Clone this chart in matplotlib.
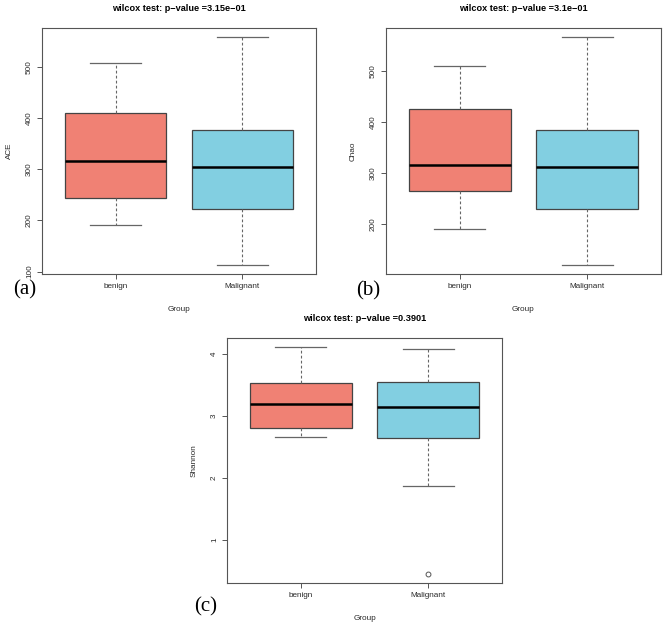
import numpy as np
import matplotlib
matplotlib.use("Agg")
import matplotlib.pyplot as plt

plt.rcParams['font.family'] = ['Liberation Sans', 'DejaVu Sans']

# Grupos
groups = ['benign', 'Malignant']

# Estadisticos (bigote inf, Q1, mediana, Q3, bigote sup)
ace_low = [190, 113]
ace_q1 = [243, 223]
ace_med = [316, 304]
ace_q3 = [410, 376]
ace_high = [508, 558]

chao_low = [191, 120]
chao_q1 = [265, 229]
chao_med = [316, 312]
chao_q3 = [425, 384]
chao_high = [510, 566]

shan_low = [2.66, 1.87]
shan_q1 = [2.80, 2.65]
shan_med = [3.19, 3.135]
shan_q3 = [3.53, 3.55]
shan_high = [4.106, 4.07]
shan_fliers = [[], [0.455]]

titles = ['wilcox test: p\u2212value =3.15e\u221201',
          'wilcox test: p\u2212value =3.1e\u221201',
          'wilcox test: p\u2212value =0.3901']
ylabels = ['ACE', 'Chao', 'Shannon']
yticks_list = [[100, 200, 300, 400, 500], [200, 300, 400, 500], [1, 2, 3, 4]]
panel_tags = ['(a)', '(b)', '(c)']

colors = ['#F08174', '#82CFE1']
W, H = 667, 625


def stats(low, q1, med, q3, high, fliers=None):
    out = []
    for i in range(len(groups)):
        out.append(dict(whislo=low[i], q1=q1[i], med=med[i], q3=q3[i],
                        whishi=high[i],
                        fliers=(fliers[i] if fliers else []),
                        label=groups[i]))
    return out


def px_axes(fig, left, top, right, bottom):
    return fig.add_axes([left / W, 1 - bottom / H, (right - left) / W, (bottom - top) / H])


all_stats = [stats(ace_low, ace_q1, ace_med, ace_q3, ace_high),
             stats(chao_low, chao_q1, chao_med, chao_q3, chao_high),
             stats(shan_low, shan_q1, shan_med, shan_q3, shan_high, shan_fliers)]

boxes_px = [(42, 28, 316, 274), (386, 28, 661, 274), (227, 338, 502, 583)]
tag_px = [(25, 290), (368, 291), (206, 607)]

fig = plt.figure(figsize=(W / 100, H / 100), dpi=100)
frame = '#555555'
txt = '#2a2a2a'

for k in range(3):
    l, t, r, b = boxes_px[k]
    ax = px_axes(fig, l, t, r, b)
    bp = ax.bxp(all_stats[k], positions=[1, 2], widths=0.8, patch_artist=True,
                showfliers=True,
                boxprops=dict(edgecolor='#444444', linewidth=0.9),
                medianprops=dict(color='black', linewidth=1.8),
                whiskerprops=dict(color='#666666', linewidth=0.8, linestyle=(0, (2.5, 2))),
                capprops=dict(color='#666666', linewidth=0.9),
                flierprops=dict(marker='o', markersize=3.5, markerfacecolor='none',
                                markeredgecolor='#555555', markeredgewidth=0.7))
    for patch, c in zip(bp['boxes'], colors):
        patch.set_facecolor(c)
    for cap in bp['caps']:
        x0, x1 = cap.get_xdata()
        xc = (x0 + x1) / 2
        cap.set_xdata([xc - 0.2, xc + 0.2])

    # rango como en R: 4% extra
    lo = min(min(s['whislo'] for s in all_stats[k]),
             min([min(s['fliers']) for s in all_stats[k] if len(s['fliers'])] + [np.inf]))
    hi = max(s['whishi'] for s in all_stats[k])
    d = (hi - lo) * 0.04
    ax.set_ylim(lo - d, hi + d)
    ax.set_xlim(0.42, 2.58)

    ax.set_yticks(yticks_list[k])
    ax.set_yticklabels([str(v) for v in yticks_list[k]], rotation=90, va='center', fontsize=5.9, color=txt)
    ax.set_xticks([1, 2])
    ax.set_xticklabels(groups, fontsize=5.9, color=txt)
    ax.tick_params(axis='both', direction='out', length=3.5, width=0.7, color='#555555', pad=3)

    for sp in ax.spines.values():
        sp.set_color(frame)
        sp.set_linewidth(0.8)

    ax.set_title(titles[k], fontsize=6.6, fontweight='bold', pad=12)
    ax.set_ylabel(ylabels[k], fontsize=5.9, color=txt)
    ax.yaxis.set_label_coords(-29 / (r - l), 0.5)
    ax.set_xlabel('Group', fontsize=5.9, color=txt)
    ax.xaxis.set_label_coords(0.5, -32 / (b - t))

    fig.text(tag_px[k][0] / W, 1 - tag_px[k][1] / H, panel_tags[k],
             family=['Liberation Serif', 'DejaVu Serif'], fontsize=15,
             ha='center', va='center')

fig.savefig('out.png', dpi=100)
